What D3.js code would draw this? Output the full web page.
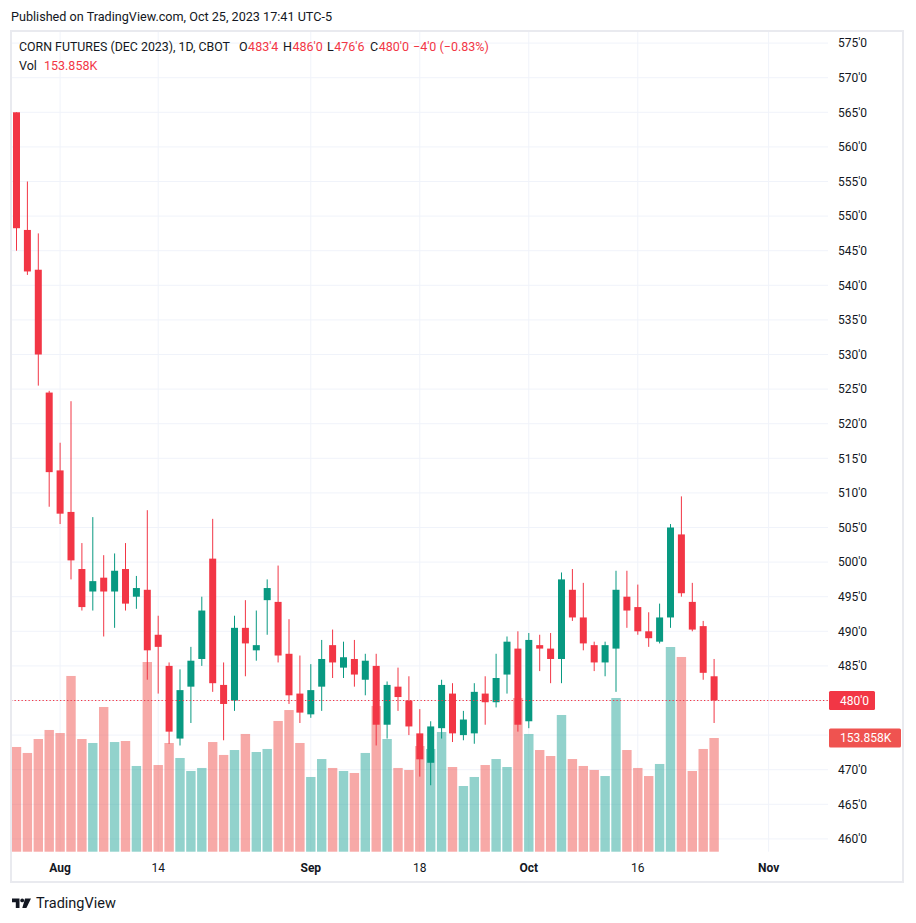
<!DOCTYPE html>
<html><head><meta charset="utf-8">
<script src="https://cdn.jsdelivr.net/npm/d3@7"></script>
<style>
body{margin:0;background:#fff;}
svg{display:block;font-family:Roboto,"Liberation Sans",sans-serif;}
</style>
</head><body>
<svg id="c" width="916" height="923"></svg>
<script>
// ---------- DATA ----------
const dates = [
 "2023-07-26","2023-07-27","2023-07-28","2023-07-31",
 "2023-08-01","2023-08-02","2023-08-03","2023-08-04","2023-08-07","2023-08-08","2023-08-09","2023-08-10","2023-08-11",
 "2023-08-14","2023-08-15","2023-08-16","2023-08-17","2023-08-18","2023-08-21","2023-08-22","2023-08-23","2023-08-24","2023-08-25",
 "2023-08-28","2023-08-29","2023-08-30","2023-08-31",
 "2023-09-01","2023-09-05","2023-09-06","2023-09-07","2023-09-08","2023-09-11","2023-09-12","2023-09-13","2023-09-14","2023-09-15",
 "2023-09-18","2023-09-19","2023-09-20","2023-09-21","2023-09-22","2023-09-25","2023-09-26","2023-09-27","2023-09-28","2023-09-29",
 "2023-10-02","2023-10-03","2023-10-04","2023-10-05","2023-10-06","2023-10-09","2023-10-10","2023-10-11","2023-10-12","2023-10-13",
 "2023-10-16","2023-10-17","2023-10-18","2023-10-19","2023-10-20","2023-10-23","2023-10-24","2023-10-25"
];
const futureDates = ["2023-10-26","2023-10-27","2023-10-30","2023-10-31","2023-11-01","2023-11-02","2023-11-03","2023-11-06","2023-11-07","2023-11-08"];

const open  = [565,548,542.25,524.5,513.25,507.25,499,495.75,497.75,495.75,499,495,496,489.5,485,474.5,482,486,500.5,482.25,480,490.5,487.25,494.5,494.25,486.75,481,478,482,488,484.75,486,483,485,476.5,482,480,475.25,471,476,481,475,475.25,481,479.75,483.75,487.5,477,488,487.5,486,496,492,488,485.5,487.5,495,493.5,490,488.5,492,504,494.25,490.75,483.5];
const high  = [565,555,547.5,524.75,517.25,523.25,502.75,506.5,501,501.25,502.75,498,507.5,492.25,485.5,484.5,487.75,495,506.25,485.5,492.25,494.5,493,497.5,499.5,491.75,486.5,485.25,488.75,490.25,488.5,488.75,486.75,486.75,482.75,484.75,483.5,478.75,477,483,482.5,478.5,482.5,483.5,486.75,489.25,490,489.75,489.5,489.75,498.5,499,497,488.5,488.5,498.75,498.75,496.75,492.75,494,505.5,509.5,497,491.5,486];
const low   = [545,541.5,525.5,508,505.5,497.5,493,493,489.25,490.5,493,493.25,483,481,473.75,473.5,476.75,485,481.25,474.25,478.5,483.5,485.75,489.5,485.5,479.5,476.75,477.5,478.5,483.25,483.25,482,480.75,473.5,474.5,478.5,475,469,467.75,474.5,474,474.25,473.75,476.5,479,481,475.5,476,484.25,482.5,482.5,491.5,487.25,484.25,483.5,481.25,490.5,489.5,487.75,488.25,490.5,495,490,483,476.75];
const close = [548.25,542,530,513,507,500.25,493.5,497.25,495.75,498.75,494,496.25,487.25,487.75,475.5,481.5,485.75,493,482.5,479.5,490.5,488.25,488,496.25,486.5,480.75,478.25,481.5,486,485.5,486.25,483.75,485.75,476.5,482.25,480.5,476.25,471.5,476.25,482.25,475.25,477.25,481.25,479.75,483.25,488.5,476.5,488.75,487.5,486,497.5,492,488.25,485.5,488,496,493,490,489,492,505,495.5,490.25,484,480];
// volume in thousands of contracts
const volume = [141.7,133.6,152.5,164.7,160.6,237.8,152.5,147.1,195.8,148.4,149.8,116.0,256.7,117.3,147.1,126.8,109.2,113.3,148.4,130.9,137.6,159.3,134.9,139.0,176.9,191.7,147.1,101.1,125.4,113.3,109.2,106.5,133.6,197.2,152.5,113.3,110.6,143.0,139.0,162.0,114.6,88.9,101.1,117.3,125.4,114.6,208.0,159.3,137.6,129.5,185.0,125.4,116.0,110.6,102.4,208.0,137.6,113.3,102.4,118.7,277.0,263.5,109.2,139.0,153.858];

const priceTicks = [575,570,565,560,555,550,545,540,535,530,525,520,515,510,505,500,495,490,485,480,475,470,465,460];
// tick labels hidden behind the last-price / last-volume labels
const hiddenTickLabels = [480,475];
const timeTickDates  = ["2023-08-01","2023-08-14","2023-09-01","2023-09-18","2023-10-02","2023-10-16","2023-11-01"];
const timeTickLabels = ["Aug","14","Sep","18","Oct","16","Nov"];
const timeTickIsMonth = [true,false,true,false,true,false,true];

const lastPriceLabel = "480'0";
const lastVolLabel = "153.858K";

// ---------- STYLE ----------
const UP = "#089981", DOWN = "#F23645";
const VOL_UP = "rgba(38,166,154,0.5)", VOL_DOWN = "rgba(239,83,80,0.5)";
const GRID = "#f0f3fa", TEXT = "#131722";

const svg = d3.select("#c");
const paneL = 10, paneR = 828, paneT = 30, paneB = 851.7;

const allDates = dates.concat(futureDates);
const x = d3.scaleBand().domain(allDates).range([11.05, 11.05 + allDates.length*10.9]).paddingInner(0).paddingOuter(0);
const step = x.bandwidth();
const cx = d => x(d) + step/2;
const y = d3.scaleLinear().domain([460,575]).range([838.9,43.1]);
const yVol = d3.scaleLinear().domain([0,300]).range([paneB, paneB - 300/1.3532]);

const fmt = v => { const w = Math.floor(v); const q = Math.round((v-w)*8); return w + "'" + q; };

// background
svg.append("rect").attr("width",916).attr("height",923).attr("fill","#fff");

// grid
const grid = svg.append("g");
grid.selectAll("line.h").data(priceTicks).join("line")
  .attr("x1",paneL+1).attr("x2",paneR).attr("y1",d=>y(d)).attr("y2",d=>y(d))
  .attr("stroke",GRID).attr("stroke-width",1);
grid.selectAll("line.v").data(timeTickDates).join("line")
  .attr("x1",d=>cx(d)).attr("x2",d=>cx(d)).attr("y1",paneT).attr("y2",paneB)
  .attr("stroke",GRID).attr("stroke-width",1);

// volume bars
const rows = dates.map((d,i)=>({d, o:open[i], h:high[i], l:low[i], c:close[i], v:volume[i]}));
svg.append("g").selectAll("rect").data(rows).join("rect")
  .attr("x",r=>cx(r.d)-4.7).attr("width",9.4)
  .attr("y",r=>yVol(r.v)).attr("height",r=>paneB-yVol(r.v))
  .attr("fill",r=>r.c>=r.o?VOL_UP:VOL_DOWN);

// candles
const cg = svg.append("g");
cg.selectAll("line").data(rows).join("line")
  .attr("x1",r=>cx(r.d)).attr("x2",r=>cx(r.d))
  .attr("y1",r=>y(r.h)).attr("y2",r=>y(r.l))
  .attr("stroke",r=>r.c>=r.o?UP:DOWN).attr("stroke-width",1);
cg.selectAll("rect").data(rows).join("rect")
  .attr("x",r=>cx(r.d)-3.5).attr("width",7)
  .attr("y",r=>y(Math.max(r.o,r.c)))
  .attr("height",r=>Math.max(1,Math.abs(y(r.o)-y(r.c))))
  .attr("fill",r=>r.c>=r.o?UP:DOWN);

// last price line
const lastRow = rows[rows.length-1];
svg.append("line").attr("x1",paneL+1).attr("x2",paneR+1)
  .attr("y1",y(lastRow.c)).attr("y2",y(lastRow.c))
  .attr("stroke",DOWN).attr("stroke-width",1).attr("stroke-dasharray","1.3,2.2");

// price axis
const ya = svg.append("g").attr("transform",`translate(${paneR},0)`)
  .call(d3.axisRight(y).tickValues(priceTicks.filter(v=>!hiddenTickLabels.includes(v)))
    .tickSize(0).tickPadding(10).tickFormat(d=>fmt(d)));
ya.select(".domain").remove();
ya.selectAll("text").attr("fill",TEXT).style("font-size","12px").style("font-family","Roboto,sans-serif");

// time axis
const xa = svg.append("g").attr("transform",`translate(0,${paneB})`)
  .call(d3.axisBottom(x).tickValues(timeTickDates).tickSize(0).tickFormat((d,i)=>timeTickLabels[i]));
xa.select(".domain").remove();
xa.selectAll("text").attr("y",16.5).attr("dy","0.35em").attr("fill",TEXT)
  .style("font-size","12px").style("font-family","Roboto,sans-serif")
  .style("font-weight",(d,i)=>timeTickIsMonth[i]?"700":"400");

// price & volume labels on axis
const py = y(lastRow.c);
svg.append("rect").attr("x",829).attr("y",py-9.5).attr("width",46).attr("height",19).attr("fill",DOWN).attr("rx",1.5);
svg.append("text").attr("x",840).attr("y",py).attr("dy","0.35em").attr("fill","#fff")
  .style("font-size","12px").text(lastPriceLabel);
const vy = yVol(lastRow.v);
svg.append("rect").attr("x",829).attr("y",vy-9.5).attr("width",72).attr("height",19).attr("fill","#EF5350").attr("rx",1.5);
svg.append("text").attr("x",840).attr("y",vy).attr("dy","0.35em").attr("fill","#fff")
  .style("font-size","12px").text(lastVolLabel);

// frame
svg.append("rect").attr("x",paneL+1).attr("y",paneT+1).attr("width",904-paneL-2).attr("height",883-paneT-2)
  .attr("fill","none").attr("stroke","#e9eaef").attr("stroke-width",2);

// header
svg.append("text").attr("x",11).attr("y",16).attr("dy","0.35em").attr("fill",TEXT)
  .style("font-size","13px").attr("textLength",321).attr("lengthAdjust","spacingAndGlyphs")
  .text("Published on TradingView.com, Oct 25, 2023 17:41 UTC-5");

const lg = svg.append("g").style("font-size","12.5px");
lg.append("text").attr("x",19).attr("y",47).attr("dy","0.35em").attr("fill",TEXT)
  .attr("textLength",211).attr("lengthAdjust","spacingAndGlyphs").text("CORN FUTURES (DEC 2023), 1D, CBOT");
const ohlc = [
  {k:"O", x:239, v:fmt(lastRow.o)},
  {k:"H", x:283, v:fmt(lastRow.h)},
  {k:"L", x:327, v:fmt(lastRow.l)},
  {k:"C", x:370, v:fmt(lastRow.c)}
];
ohlc.forEach(o=>{
  const t = lg.append("text").attr("x",o.x).attr("y",47).attr("dy","0.35em").attr("fill",TEXT).text(o.k);
  const w = t.node().getComputedTextLength();
  lg.append("text").attr("x",o.x+w+0.5).attr("y",47).attr("dy","0.35em").attr("fill",DOWN).text(o.v);
});
lg.append("text").attr("x",413).attr("y",47).attr("dy","0.35em").attr("fill",DOWN).text("\u22124'0 (\u22120.83%)");
lg.append("text").attr("x",19).attr("y",66).attr("dy","0.35em").attr("fill",TEXT).text("Vol");
lg.append("text").attr("x",44).attr("y",66).attr("dy","0.35em").attr("fill",DOWN).text(lastVolLabel);

// footer logo
const logo = svg.append("g").attr("fill",TEXT);
logo.append("path").attr("d","M12 898.5 h7.5 v9.5 h-3.7 v-5.8 h-3.8 z");
logo.append("circle").attr("cx",22.2).attr("cy",900.4).attr("r",1.9);
logo.append("path").attr("d","M25 898.5 h6 l-4.6 9.5 h-4.1 z");
svg.append("text").attr("x",36).attr("y",903).attr("dy","0.35em").attr("fill",TEXT)
  .style("font-size","14.5px").text("TradingView");
</script>
</body></html>
